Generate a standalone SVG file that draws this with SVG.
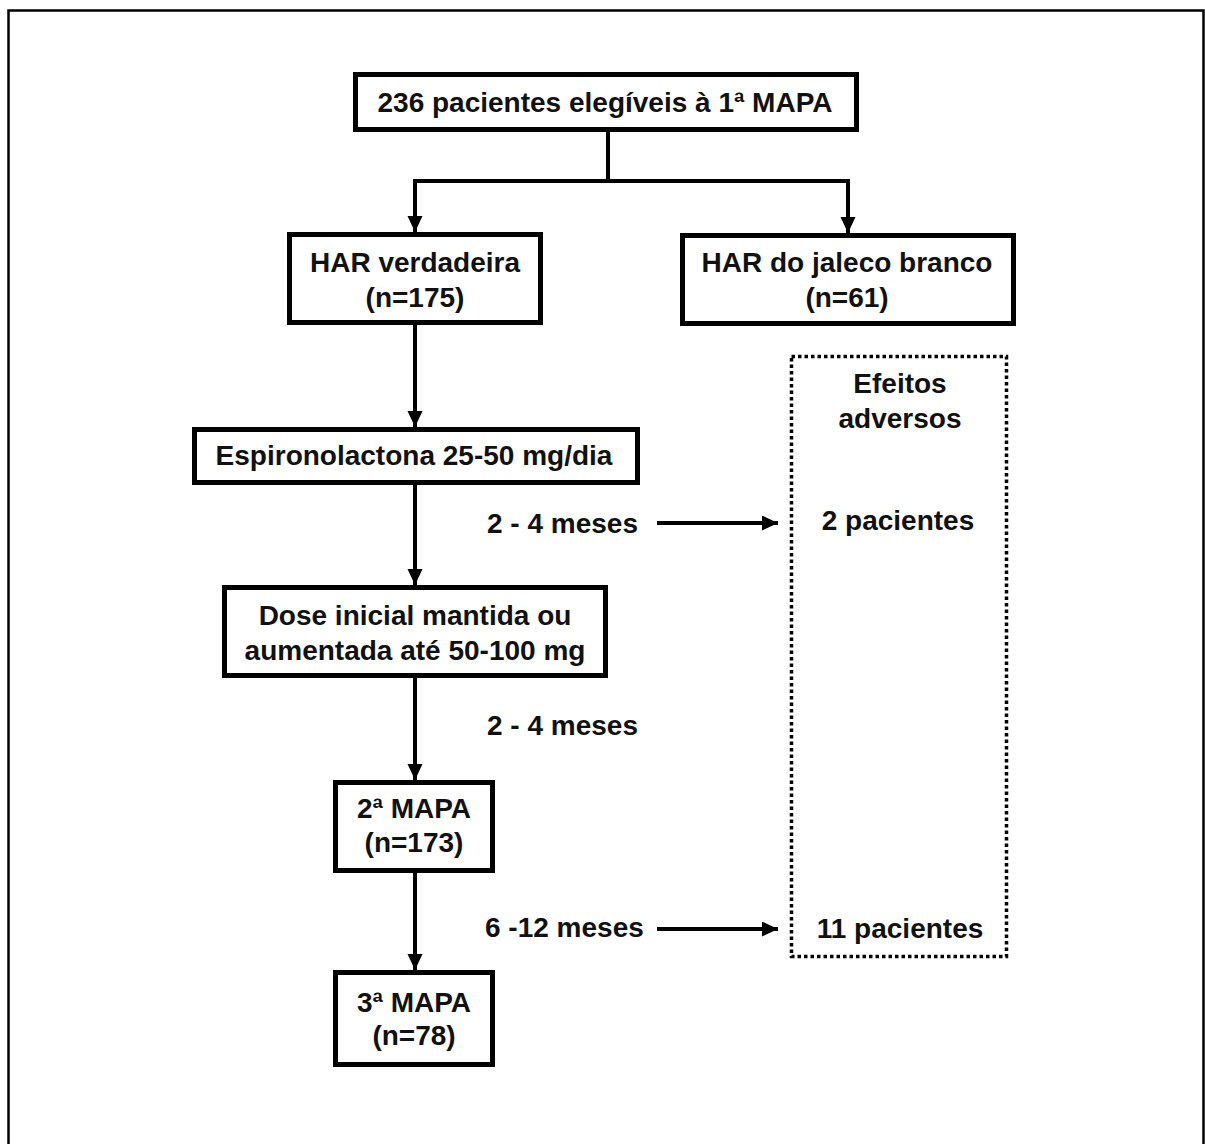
<svg xmlns="http://www.w3.org/2000/svg" width="1205" height="1144" viewBox="0 0 1205 1144">
  <style>
    .box { fill: #ffffff; stroke: #000000; stroke-width: 5; }
    .dot { fill: none; stroke: #000000; stroke-width: 3.5; stroke-dasharray: 3.5 3; }
    .t { font-family: "Liberation Sans", Arial, sans-serif; font-weight: bold; font-size: 28px; fill: #111111; }
    .c { text-anchor: middle; }
    .ln { fill: none; stroke: #000000; stroke-width: 4; }
  </style>
  <defs>
    <marker id="ah" markerUnits="userSpaceOnUse" markerWidth="16" markerHeight="16" refX="16" refY="7.5" orient="auto">
      <path d="M0,0 L16,7.5 L0,15 Z" fill="#000000"/>
    </marker>
  </defs>
  <rect x="0" y="0" width="1205" height="1144" fill="#ffffff"/>
  <rect x="8.5" y="10.5" width="1195" height="1200" fill="none" stroke="#000000" stroke-width="2.5"/>

  <g id="connectors">
    <polyline class="ln" points="608,132 608,181"/>
    <polyline class="ln" points="415,181 848,181"/>
    <line class="ln" x1="415" y1="179" x2="415" y2="232" marker-end="url(#ah)"/>
    <line class="ln" x1="848" y1="179" x2="848" y2="233" marker-end="url(#ah)"/>
    <line class="ln" x1="415" y1="325" x2="415" y2="427" marker-end="url(#ah)"/>
    <line class="ln" x1="415" y1="485" x2="415" y2="585" marker-end="url(#ah)"/>
    <line class="ln" x1="415" y1="678" x2="415" y2="780" marker-end="url(#ah)"/>
    <line class="ln" x1="415" y1="873" x2="415" y2="970" marker-end="url(#ah)"/>
    <line class="ln" x1="657" y1="523" x2="778" y2="523" marker-end="url(#ah)"/>
    <line class="ln" x1="657" y1="929" x2="778" y2="929" marker-end="url(#ah)"/>
  </g>

  <g id="n-eligiveis">
    <rect class="box" x="355.5" y="74.5" width="501" height="55"/>
    <text class="t c" x="605" y="112">236 pacientes elegíveis à 1ª MAPA</text>
  </g>
  <g id="n-verdadeira">
    <rect class="box" x="289.5" y="234.5" width="251" height="88"/>
    <text class="t c" x="415" y="272">HAR verdadeira</text>
    <text class="t c" x="415" y="307">(n=175)</text>
  </g>
  <g id="n-jaleco">
    <rect class="box" x="682.5" y="235.5" width="331" height="88"/>
    <text class="t c" x="847" y="272">HAR do jaleco branco</text>
    <text class="t c" x="847" y="307">(n=61)</text>
  </g>
  <g id="n-espironolactona">
    <rect class="box" x="194.5" y="429.5" width="443" height="53"/>
    <text class="t c" x="414" y="465">Espironolactona 25-50 mg/dia</text>
  </g>
  <g id="n-dose">
    <rect class="box" x="224.5" y="587.5" width="381" height="88"/>
    <text class="t c" x="415" y="625">Dose inicial mantida ou</text>
    <text class="t c" x="415" y="660">aumentada até 50-100 mg</text>
  </g>
  <g id="n-mapa2">
    <rect class="box" x="335.5" y="782.5" width="157" height="88"/>
    <text class="t c" x="414" y="818">2ª MAPA</text>
    <text class="t c" x="414" y="852">(n=173)</text>
  </g>
  <g id="n-mapa3">
    <rect class="box" x="335.5" y="972.5" width="157" height="92"/>
    <text class="t c" x="414" y="1012">3ª MAPA</text>
    <text class="t c" x="414" y="1045">(n=78)</text>
  </g>
  <g id="n-efeitos">
    <rect class="dot" x="791.5" y="356.5" width="215" height="600"/>
    <text class="t c" x="900" y="393">Efeitos</text>
    <text class="t c" x="900" y="428">adversos</text>
    <text class="t c" x="898" y="530">2 pacientes</text>
    <text class="t c" x="900" y="938">11 pacientes</text>
  </g>
  <g id="labels">
    <text class="t" x="487" y="533">2 - 4 meses</text>
    <text class="t" x="487" y="735">2 - 4 meses</text>
    <text class="t" x="485" y="937">6 -12 meses</text>
  </g>
</svg>
